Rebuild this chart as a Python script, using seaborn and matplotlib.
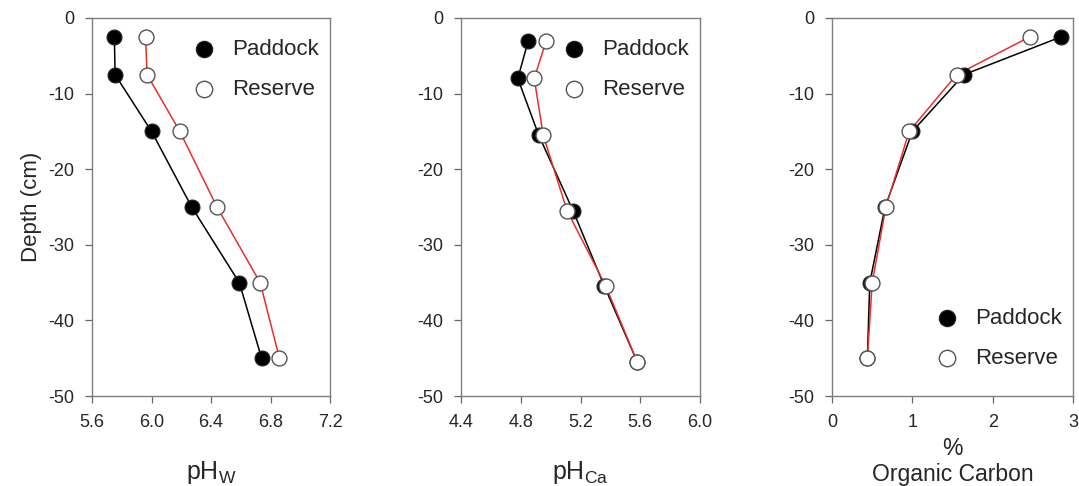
import matplotlib.pyplot as plt
import pandas as pd
import seaborn as sns

# depth profiles
depth_w = [-2.5, -7.5, -15, -25, -35, -45]
ph_w_paddock = [5.75, 5.755, 6.0, 6.27, 6.59, 6.74]
ph_w_reserve = [5.96, 5.97, 6.19, 6.44, 6.73, 6.86]

depth_ca = [-3, -8, -15.5, -25.5, -35.5, -45.5]
ph_ca_paddock = [4.85, 4.78, 4.92, 5.15, 5.36, 5.58]
ph_ca_reserve = [4.97, 4.89, 4.95, 5.11, 5.37, 5.58]

depth_oc = [-2.5, -7.5, -15, -25, -35, -45]
oc_paddock = [2.85, 1.64, 1.0, 0.66, 0.47, 0.44]
oc_reserve = [2.46, 1.55, 0.96, 0.67, 0.50, 0.44]

x_ticks_w = [5.6, 6.0, 6.4, 6.8, 7.2]
x_ticks_ca = [4.4, 4.8, 5.2, 5.6, 6.0]
x_ticks_oc = [0, 1, 2, 3]
y_ticks = [0, -10, -20, -30, -40, -50]

sns.set_theme(style="ticks")
plt.rcParams["font.family"] = ["Liberation Sans", "DejaVu Sans"]
plt.rcParams["mathtext.default"] = "regular"
plt.rcParams["axes.unicode_minus"] = False


def profile(x_pad, x_res, depth):
    return pd.DataFrame({
        "value": list(x_pad) + list(x_res),
        "depth": list(depth) * 2,
        "site": ["Paddock"] * len(depth) + ["Reserve"] * len(depth),
    })


fig = plt.figure(figsize=(10.79, 4.86), dpi=100)
boxes = [
    [0.0853, 0.185, 0.2206, 0.778],
    [0.4273, 0.185, 0.2215, 0.778],
    [0.7711, 0.185, 0.2234, 0.778],
]
panels = [
    (profile(ph_w_paddock, ph_w_reserve, depth_w), x_ticks_w, ["5.6", "6.0", "6.4", "6.8", "7.2"],
     r"pH$_{W}$", "upper right", (1.02, 0.985)),
    (profile(ph_ca_paddock, ph_ca_reserve, depth_ca), x_ticks_ca, ["4.4", "4.8", "5.2", "5.6", "6.0"],
     r"pH$_{Ca}$", "upper right", (1.02, 0.985)),
    (profile(oc_paddock, oc_reserve, depth_oc), x_ticks_oc, ["0", "1", "2", "3"],
     "%\nOrganic Carbon", "lower right", (1.02, 0.03)),
]
line_colors = {"Paddock": "black", "Reserve": "#e8302a"}

for i, (df, xt, xtl, xlab, loc, anchor) in enumerate(panels):
    ax = fig.add_axes(boxes[i])
    sns.lineplot(data=df, x="value", y="depth", hue="site", palette=line_colors,
                 sort=False, orient="y", estimator=None, linewidth=1.1, legend=False, ax=ax)
    pad = df[df["site"] == "Paddock"]
    res = df[df["site"] == "Reserve"]
    sns.scatterplot(data=pad, x="value", y="depth", s=115, color="black",
                    edgecolor="#222222", linewidth=0.8, label="Paddock", ax=ax, zorder=3)
    sns.scatterplot(data=res, x="value", y="depth", s=115, color="white",
                    edgecolor="#555555", linewidth=1.0, label="Reserve", ax=ax, zorder=4)

    ax.set_xlim(xt[0], xt[-1])
    ax.set_ylim(-50, 0)
    ax.set_xticks(xt)
    ax.set_xticklabels(xtl)
    ax.set_yticks(y_ticks)
    ax.set_yticklabels([str(v) for v in y_ticks])
    ax.tick_params(labelsize=13, length=5, width=0.9, color="#666666", pad=8)
    for sp in ax.spines.values():
        sp.set_color("#7f7f7f")
        sp.set_linewidth(1.0)
    ax.set_xlabel(xlab, fontsize=18 if i < 2 else 16.5, labelpad=20 if i < 2 else 4)
    ax.set_ylabel("Depth (cm)" if i == 0 else "", fontsize=16)

    ax.legend(loc=loc, bbox_to_anchor=anchor, frameon=False, fontsize=16, handletextpad=0.3,
              markerscale=1.1, labelspacing=0.85, borderaxespad=0.3)

fig.savefig("out.png", dpi=100)
